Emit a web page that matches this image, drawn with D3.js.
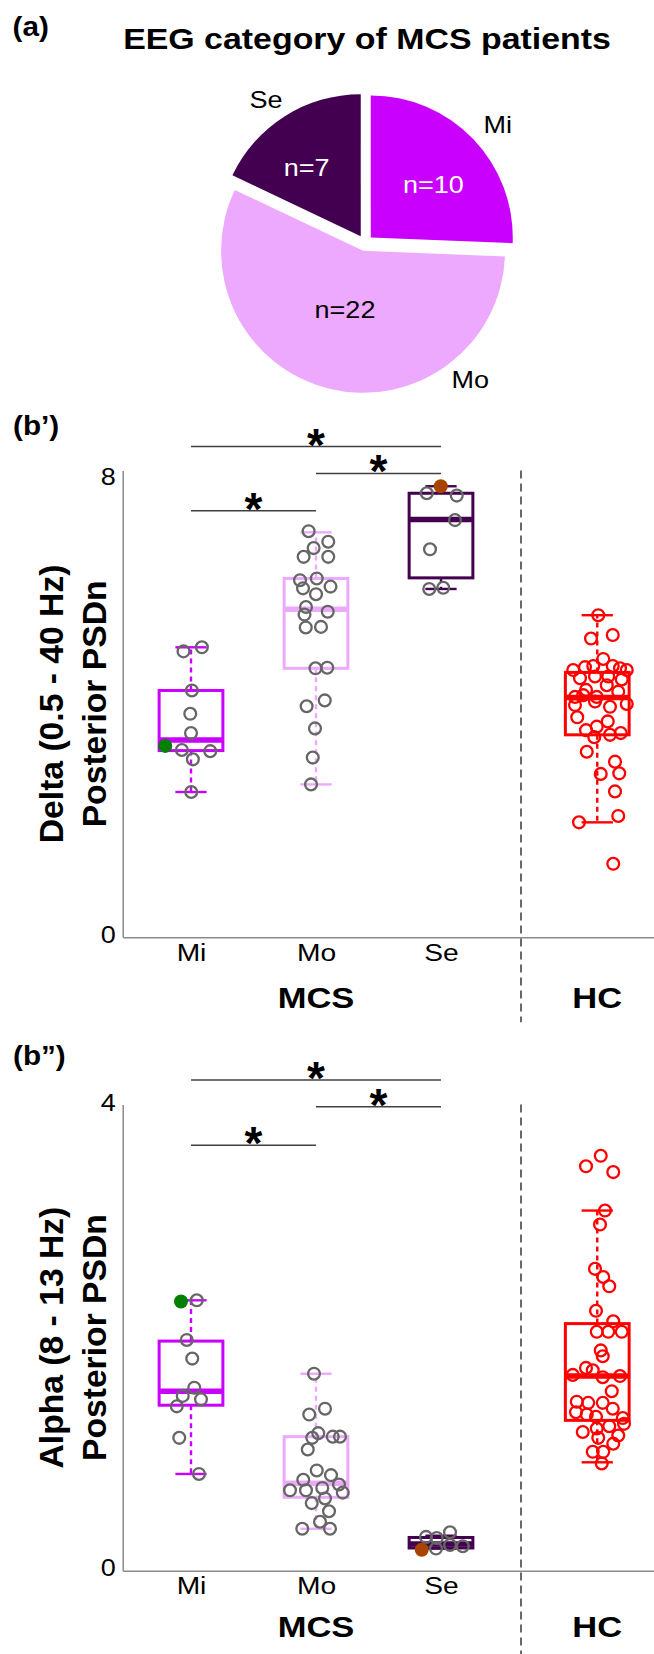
<!DOCTYPE html>
<html>
<head>
<meta charset="utf-8">
<script src="https://cdn.jsdelivr.net/npm/d3@7"></script>
<style>
  body { margin: 0; background: #fff; }
  svg { display: block; font-family: "Liberation Sans", Arial, Helvetica, sans-serif; }
</style>
</head>
<body>
<svg id="chart" width="654" height="1654"></svg>
<script>
// ---- data: pie (a)
const pieLabels = ['Mi', 'Mo', 'Se'];
const pieCounts = [10, 22, 7];

// ---- data: box plots
const groups = ['Mi', 'Mo', 'Se', 'HC'];
const groupX = [1, 2, 3, 4.25];
const sigPairs = [[0, 2], [1, 2], [0, 1]];

// (b') delta, box stats per group
const deltaLow    = [2.49, 2.62, 5.97, 1.97];
const deltaQ1     = [3.20, 4.61, 6.16, 3.47];
const deltaMedian = [3.38, 5.62, 7.16, 4.11];
const deltaQ3     = [4.23, 6.15, 7.61, 4.54];
const deltaHigh   = [4.97, 6.94, 7.73, 5.52];
const deltaSigLevels = [8.41, 7.95, 7.31];

const deltaMi = [4.90, 4.97, 4.23, 3.83, 3.50, 3.21, 3.19, 3.05, 2.49];
const deltaMiJitter = [-0.06, 0.087, 0.007, -0.006, 0, -0.073, 0.154, 0.015, 0.002];
const deltaMo = [6.96, 6.78, 6.67, 6.52, 6.52, 6.12, 6.15, 5.98, 6.01, 5.88, 5.66,
                 5.58, 5.53, 5.31, 5.32, 4.61, 4.62, 3.96, 4.06, 3.58, 3.08, 2.62];
const deltaMoJitter = [-0.059, 0.098, -0.019, -0.099, 0.098, -0.128, 0.006, -0.104, 0.116, 0, -0.08,
                       0.094, -0.092, -0.082, 0.04, -0.004, 0.09, -0.075, 0.07, -0.008, -0.026, -0.04];
const deltaSe = [7.61, 7.57, 7.15, 6.65, 5.97, 5.99];
const deltaSeJitter = [-0.114, 0.126, 0.112, -0.088, -0.094, 0.018];
const deltaHC = [5.52, 5.12, 5.18, 4.77, 4.58, 4.63, 4.65, 4.65, 4.61, 4.58, 4.44, 4.47, 4.47,
                 4.42, 4.32, 4.24, 4.21, 4.12, 4.12, 4.15, 3.98, 4.04, 3.95, 4.00, 3.77, 3.61,
                 3.70, 3.55, 3.43, 3.47, 3.50, 3.18, 3.01, 2.80, 2.81, 2.50, 2.08, 1.97, 1.26];
const deltaHCJitter = [0.008, -0.05, 0.124, 0.048, -0.192, -0.098, -0.032, 0.124, 0.182, 0.236, -0.138, -0.018, 0.088,
                       0.196, 0.076, -0.09, 0.168, -0.178, -0.004, -0.112, -0.178, -0.018, 0.102, 0.236, -0.16, -0.004,
                       0.084, -0.09, -0.024, 0.102, 0.188, -0.084, 0.142, 0.028, 0.176, 0.142, 0.168, -0.146, 0.128];
const highlightGroups = ['Mi', 'Se'];
const deltaHighlight = [3.28, 7.73];
const deltaHighlightJitter = [-0.206, -0.002];

// (b'') alpha, box stats per group
const alphaLow    = [0.83, 0.36, 0.19, 0.93];
const alphaQ1     = [1.42, 0.63, 0.195, 1.29];
const alphaMedian = [1.54, 0.75, 0.23, 1.67];
const alphaQ3     = [1.97, 1.15, 0.285, 2.12];
const alphaHigh   = [2.32, 1.69, 0.30, 3.09];
const alphaSigLevels = [4.21, 3.98, 3.65];

const alphaMi = [2.32, 1.98, 1.82, 1.57, 1.50, 1.47, 1.41, 1.14, 0.83];
const alphaMiJitter = [0.046, -0.034, 0.01, 0.026, -0.066, 0.08, -0.114, -0.094, 0.064];
const alphaMo = [1.69, 1.34, 1.39, 1.18, 1.14, 1.15, 1.15, 1.04, 0.86, 0.82, 0.78,
                 0.69, 0.69, 0.71, 0.74, 0.67, 0.58, 0.62, 0.51, 0.42, 0.36, 0.36];
const alphaMoJitter = [-0.016, -0.054, 0.072, 0.018, -0.03, 0.134, 0.192, -0.066, 0.006, 0.12, -0.102,
                       -0.208, -0.08, 0.05, 0.184, 0.214, -0.034, 0.072, 0.104, 0.032, -0.11, 0.112];
const alphaSe = [0.29, 0.28, 0.33, 0.19, 0.22, 0.21];
const alphaSeJitter = [-0.12, -0.034, 0.072, -0.04, 0.072, 0.174];
const alphaHC = [3.56, 3.47, 3.42, 3.09, 2.97, 2.59, 2.52, 2.44, 2.23, 2.14, 2.05, 2.05, 2.05,
                 1.89, 1.84, 1.74, 1.68, 1.72, 1.66, 1.67, 1.54, 1.45, 1.44, 1.44, 1.39, 1.36,
                 1.34, 1.32, 1.31, 1.26, 1.24, 1.22, 1.19, 1.16, 1.14, 1.09, 1.02, 1.02, 0.92];
const alphaHCJitter = [0.028, -0.09, 0.128, 0.062, 0.022, -0.018, 0.048, 0.096, -0.01, 0.128, -0.004, 0.088, 0.196,
                       0.028, 0.044, -0.09, -0.196, -0.036, 0.044, 0.182, 0.116, -0.164, -0.072, 0.044, 0.124, -0.17,
                       -0.084, -0.01, 0.204, 0.214, 0.096, -0.004, -0.116, 0.168, 0.008, 0.128, -0.036, 0.048, 0.036];
const alphaHighlight = [2.31, 0.18];
const alphaHighlightJitter = [-0.08, -0.154];

// ---- drawing
const STRETCH = 1.15; // the figure's text runs wider than plain Arial
const svg = d3.select('#chart');

function label(parent, str, x, y, size, o = {}) {
  return parent.append('text')
    .attr('transform', `translate(${x},${y}) rotate(${o.rotate || 0}) scale(${o.stretch || STRETCH},1)`)
    .attr('text-anchor', o.anchor || 'middle')
    .attr('dominant-baseline', o.baseline || 'auto')
    .attr('font-size', size)
    .attr('font-weight', o.weight || 'normal')
    .attr('fill', o.fill || '#000')
    .text(str);
}

// (a) pie
label(svg, '(a)', 12.5, 36, 27, { anchor: 'start', weight: 'bold', stretch: 1.1 });
label(svg, 'EEG category of MCS patients', 367, 48.5, 30, { weight: 'bold', stretch: 1.13 });

const pieCx = 365, pieCy = 243, pieR = 142, explode = 8;
const pieColor = d3.scaleOrdinal().domain(pieLabels).range(['#ca00ff', '#eca9fd', '#440050']);
const pieArcs = d3.pie().sort(null).value(d => d)(pieCounts);
const arcGen = d3.arc().innerRadius(0).outerRadius(pieR);
const pieG = svg.append('g').attr('transform', `translate(${pieCx},${pieCy})`);

pieArcs.forEach((a, i) => {
  const mid = (a.startAngle + a.endAngle) / 2;
  pieG.append('path')
    .attr('d', arcGen(a))
    .attr('fill', pieColor(pieLabels[i]))
    .attr('transform', `translate(${Math.sin(mid) * explode},${-Math.cos(mid) * explode})`);
});

// label placement around the pie (degrees clockwise from 12 o'clock)
const outerAngle = [48.4, 142.5, 325.3], outerR = [177.6, 172.8, 174];
const innerAngle = [49.7, 196.8, 322.4], innerR = [89.6, 69.3, 95.5];
const innerFill = ['#fff', '#000', '#fff'];
const polar = (deg, r) => [r * Math.sin(deg * Math.PI / 180), -r * Math.cos(deg * Math.PI / 180)];

pieLabels.forEach((name, i) => {
  const [ox, oy] = polar(outerAngle[i], outerR[i]);
  label(pieG, name, ox, oy, 23.5, { baseline: 'central' });
  const [ix, iy] = polar(innerAngle[i], innerR[i]);
  label(pieG, 'n=' + pieCounts[i], ix, iy, 23.5, { baseline: 'central', fill: innerFill[i] });
});

// (b') and (b'') box plots
const x = d3.scaleLinear().domain([0.4536, 4.704]).range([122.7, 654]);
const boxColor = d3.scaleOrdinal().domain(groups).range(['#ca00ff', '#eca9fd', '#440050', '#ff0000']);
const highlightColor = d3.scaleOrdinal().domain(highlightGroups).range(['#008000', '#a84400']);

function drawPanel(p) {
  const y = d3.scaleLinear().domain([0, p.yMax]).range([p.bottom, p.top]);
  const g = svg.append('g');

  label(g, p.name, 13, p.nameY, 27, { anchor: 'start', weight: 'bold', stretch: 1.1 });

  // axes
  const yAxis = g.append('g')
    .attr('transform', `translate(${x.range()[0]},0)`)
    .call(d3.axisLeft(y).tickValues([0, p.yMax]).tickFormat(d3.format('~g')).tickSize(0).tickPadding(6));
  const xAxis = g.append('g')
    .attr('transform', `translate(0,${p.bottom})`)
    .call(d3.axisBottom(x).tickValues(groupX.slice(0, 3)).tickFormat((d, i) => groups[i]).tickSize(0).tickPadding(6));

  [yAxis, xAxis].forEach(ax => {
    ax.attr('font-family', null).attr('font-size', null);
    ax.select('.domain').attr('stroke', '#8a8a8a').attr('stroke-width', 1.5);
  });
  yAxis.selectAll('.tick text')
    .attr('font-size', 23.5).attr('fill', '#000')
    .attr('transform', (d, i) => `translate(0,${p.tickShift[i]}) scale(${STRETCH},1)`);
  xAxis.selectAll('.tick text')
    .attr('font-size', 24.5).attr('fill', '#000')
    .attr('transform', `scale(${STRETCH},1)`);

  label(g, 'MCS', x(groupX[1]), p.bottom + p.groupLabelOffset, 30, { weight: 'bold' });
  label(g, 'HC', x(groupX[3]), p.bottom + p.groupLabelOffset, 30, { weight: 'bold' });

  const yMid = (p.top + p.bottom) / 2;
  label(g, p.yTitle[0], 63, yMid, 34, { weight: 'bold', rotate: -90, stretch: 0.99 });
  label(g, p.yTitle[1], 105.5, yMid, 34, { weight: 'bold', rotate: -90, stretch: 0.99 });

  // MCS | HC separator
  g.append('line')
    .attr('x1', x(3.64)).attr('x2', x(3.64))
    .attr('y1', p.top).attr('y2', p.bottom + 85)
    .attr('stroke', '#444').attr('stroke-width', 1.6).attr('stroke-dasharray', '8,5');

  // boxes
  groups.forEach((grp, i) => {
    const cx = x(groupX[i]);
    const hw = x(groupX[i] + 0.255) - cx;
    const cw = x(groupX[i] + 0.125) - cx;
    const col = boxColor(grp);
    const bg = g.append('g').attr('stroke', col).attr('fill', 'none');
    bg.append('line').attr('x1', cx).attr('x2', cx).attr('y1', y(p.q3[i])).attr('y2', y(p.high[i]))
      .attr('stroke-width', 2.4).attr('stroke-dasharray', '5,4');
    bg.append('line').attr('x1', cx).attr('x2', cx).attr('y1', y(p.q1[i])).attr('y2', y(p.low[i]))
      .attr('stroke-width', 2.4).attr('stroke-dasharray', '5,4');
    [p.high[i], p.low[i]].forEach(v => {
      bg.append('line').attr('x1', cx - cw).attr('x2', cx + cw).attr('y1', y(v)).attr('y2', y(v))
        .attr('stroke-width', 2.4);
    });
    bg.append('rect')
      .attr('x', cx - hw).attr('width', 2 * hw)
      .attr('y', y(p.q3[i])).attr('height', y(p.q1[i]) - y(p.q3[i]))
      .attr('stroke-width', 3);
    bg.append('line').attr('x1', cx - hw).attr('x2', cx + hw)
      .attr('y1', y(p.median[i])).attr('y2', y(p.median[i]))
      .attr('stroke-width', 5.5);
  });

  // individual points
  groups.forEach((grp, i) => {
    const vals = p.points[i], jit = p.jitter[i];
    g.append('g').selectAll('circle')
      .data(vals)
      .join('circle')
      .attr('cx', (d, j) => x(groupX[i] + jit[j]))
      .attr('cy', d => y(d))
      .attr('r', 5.9)
      .attr('fill', 'none')
      .attr('stroke', grp === 'HC' ? '#ff0000' : '#666')
      .attr('stroke-width', 2.3);
  });

  // highlighted patients
  highlightGroups.forEach((grp, k) => {
    g.append('circle')
      .attr('cx', x(groupX[groups.indexOf(grp)] + p.highlightJitter[k]))
      .attr('cy', y(p.highlight[k]))
      .attr('r', 7)
      .attr('fill', highlightColor(grp));
  });

  // significance bars
  sigPairs.forEach(([a, b], k) => {
    const ly = y(p.sigLevels[k]);
    g.append('line')
      .attr('x1', x(groupX[a])).attr('x2', x(groupX[b]))
      .attr('y1', ly).attr('y2', ly)
      .attr('stroke', '#404040').attr('stroke-width', 1.5);
    label(g, '*', (x(groupX[a]) + x(groupX[b])) / 2, ly + 14, 46, { weight: 'bold', stretch: 1 });
  });
}

drawPanel({
  name: '(b\u2019)', nameY: 434.5,
  top: 470.5, bottom: 937.3, yMax: 8, tickShift: [-2, 6], groupLabelOffset: 71,
  yTitle: ['Delta (0.5 - 40 Hz)', 'Posterior PSDn'],
  low: deltaLow, q1: deltaQ1, median: deltaMedian, q3: deltaQ3, high: deltaHigh,
  points: [deltaMi, deltaMo, deltaSe, deltaHC],
  jitter: [deltaMiJitter, deltaMoJitter, deltaSeJitter, deltaHCJitter],
  highlight: deltaHighlight, highlightJitter: deltaHighlightJitter,
  sigLevels: deltaSigLevels
});

drawPanel({
  name: '(b\u201D)', nameY: 1065,
  top: 1104.5, bottom: 1570.7, yMax: 4, tickShift: [-2.5, -2], groupLabelOffset: 66,
  yTitle: ['Alpha (8 - 13 Hz)', 'Posterior PSDn'],
  low: alphaLow, q1: alphaQ1, median: alphaMedian, q3: alphaQ3, high: alphaHigh,
  points: [alphaMi, alphaMo, alphaSe, alphaHC],
  jitter: [alphaMiJitter, alphaMoJitter, alphaSeJitter, alphaHCJitter],
  highlight: alphaHighlight, highlightJitter: alphaHighlightJitter,
  sigLevels: alphaSigLevels
});
</script>
</body>
</html>
